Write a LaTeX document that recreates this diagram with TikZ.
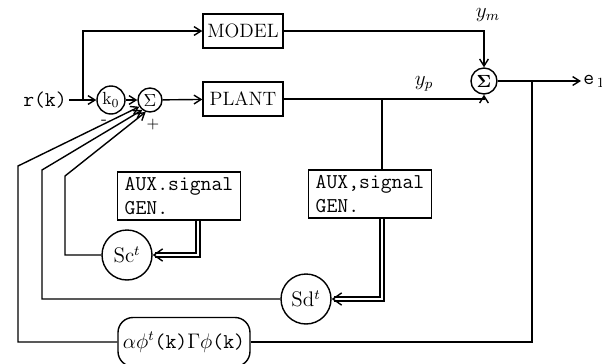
\documentclass[tikz,border=0pt]{standalone}
\usetikzlibrary{arrows.meta, positioning}
\tikzset{
  every picture/.style={line width=0.8pt},
  blk/.style={draw, minimum width=1.6cm, minimum height=0.68cm, inner sep=2pt, font=\fontsize{11}{13}\selectfont},
  junc/.style={draw, circle, inner sep=0pt, minimum size=#1},
  junc/.default=0.48cm,
  auxbox/.style={draw, align=left, font=\ttfamily\large, inner sep=2pt, minimum width=2.45cm, minimum height=0.96cm},
  arrow/.style={-{Straight Barb[length=4pt, width=5pt]}},
  dbl/.style={double, double distance=1.6pt, -{Straight Barb[length=5pt, width=7pt]}},
  lbl/.style={font=\large, inner sep=1pt},
}
\begin{document}
\begin{tikzpicture}[x=0.02cm, y=-0.02cm]
  \useasboundingbox (0,0) rectangle (602,363);
  \clip (0,0) rectangle (602,363);
  \node[lbl, font=\ttfamily\large] (rk) at (45,100) {r(k)};
  \node[junc=0.56cm] (k0) at (111,100) {k$_0$};
  \node[junc] (s1) at (150,100) {$\Sigma$};
  \node[blk] (model) at (243,31) {MODEL};
  \node[blk] (plant) at (243,99) {PLANT};
  \node[junc=0.52cm] (s2) at (484,81) {$\mathbf{\Sigma}$};
  \node[auxbox] (aux1) at (179,196) {AUX.signal\\GEN.};
  \node[auxbox] (aux2) at (370,194) {AUX,signal\\GEN.};
  \node[junc=1cm, lbl] (sc) at (127,255) {Sc$^{t}$};
  \node[junc=1cm, lbl] (sd) at (306,299) {Sd$^{t}$};
  \node[draw, rounded corners=0.3cm, minimum width=2.64cm, minimum height=0.98cm, lbl] (gain) at (184,342)
    {$\alpha\phi^{t}$\texttt{(k)}$\Gamma\phi$\texttt{(k)}};
  \node[lbl] (ym) at (488,15) {$y_m$};
  \node[lbl] (yp) at (424,84) {$y_p$};
  \node[lbl, font=\ttfamily\large, anchor=west] (e1) at (581,81) {e$_{\,1}$};
  \node[inner sep=0pt] (minus) at (104,122) {-};
  \node[lbl, font=\small] (plus) at (153,125) {+};
  \coordinate (br) at (83,100);
  \coordinate (tapp) at (382,99);
  \coordinate (tape) at (532,81);
  \coordinate (tapa) at (198,196);
  \draw[arrow] (rk) -- (k0);
  \draw[arrow] (br) |- (model.west);
  \foreach \a/\b in {k0/s1, s1/plant} \draw[arrow] (\a) -- (\b);
  \draw[arrow] (model.east) -| (s2.north);
  \draw[arrow] (plant.east) -| (s2.south);
  \draw[arrow] (s2.east) -- (e1.west);
  \draw (tape) |- (gain.east);
  \draw (tapp) -- (tapp |- aux2.north);
  \draw[dbl] (tapp |- aux2.south) |- (sd.east);
  \draw[dbl] (tapa |- aux1.south) |- (sc.east);
  \draw[arrow] (gain.west) -| (18,166) -- (s1.212);
  \draw[arrow] (sd.west) -| (42,170) -- (s1.232);
  \draw[arrow] (sc.west) -| (65,176) -- (s1.250);
\end{tikzpicture}
\end{document}
